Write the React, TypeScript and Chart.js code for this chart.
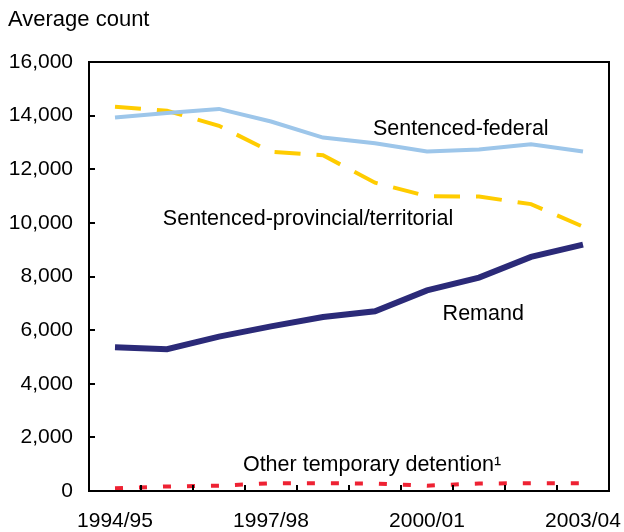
import React, { useEffect, useRef } from 'react';
import { Chart, registerables } from 'chart.js';

Chart.register(...registerables);

const years = ['1994/95', '1995/96', '1996/97', '1997/98', '1998/99', '1999/00', '2000/01', '2001/02', '2002/03', '2003/04'];
const shownYears = ['1994/95', '1997/98', '2000/01', '2003/04'];
const sentencedFederal = [13930, 14100, 14250, 13780, 13180, 12970, 12660, 12740, 12930, 12660];
const sentencedProvincial = [14330, 14180, 13620, 12650, 12520, 11500, 11000, 10980, 10700, 9860];
const remand = [5360, 5290, 5760, 6140, 6490, 6700, 7480, 7960, 8730, 9190];
const otherTemporary = [100, 170, 200, 290, 290, 280, 200, 280, 290, 290];
const yMin = 0;
const yMax = 16000;
const yStep = 2000;
const yTitle = 'Average count';
// label anchors in data space: [text, category position, value at baseline]
const labelTexts = ['Sentenced-federal', 'Sentenced-provincial/territorial', 'Remand', 'Other temporary detention\u00B9'];
const labelPositions = [4.96, 0.92, 6.3, 2.46];
const labelValues = [13280, 9930, 6370, 750];

const FONT = '"Liberation Sans", Arial, Helvetica, sans-serif';

export default function App() {
  const ref = useRef<HTMLCanvasElement | null>(null);

  useEffect(() => {
    document.body.style.margin = '0';
    const canvas = ref.current;
    if (!canvas) return;

    const framePlugin = {
      id: 'frame',
      afterDatasetsDraw(chart: any) {
        const { ctx, chartArea } = chart;
        const xs = chart.scales.x;
        const ys = chart.scales.y;
        ctx.save();
        // annotations
        ctx.fillStyle = '#000';
        ctx.font = `21.5px ${FONT}`;
        ctx.textAlign = 'left';
        ctx.textBaseline = 'alphabetic';
        labelTexts.forEach((t, i) => {
          const p = labelPositions[i];
          const base = Math.floor(p);
          const frac = p - base;
          const x0 = xs.getPixelForValue(base);
          const x1 = xs.getPixelForValue(base + 1);
          const x = x0 + (x1 - x0) * frac;
          const y = ys.getPixelForValue(labelValues[i]);
          ctx.fillText(t, x, y);
        });
        // title
        ctx.font = `22px ${FONT}`;
        ctx.fillText(yTitle, 8, 26);
        // box
        ctx.strokeStyle = '#000';
        ctx.lineWidth = 2;
        ctx.strokeRect(chartArea.left, chartArea.top, chartArea.right - chartArea.left, chartArea.bottom - chartArea.top);
        // y ticks inward
        ys.ticks.forEach((tk: any) => {
          const y = Math.round(ys.getPixelForValue(tk.value));
          ctx.beginPath();
          ctx.moveTo(chartArea.left, y);
          ctx.lineTo(chartArea.left + 6, y);
          ctx.stroke();
        });
        // x ticks inward at category boundaries
        for (let i = 1; i < years.length; i++) {
          const x = Math.round((xs.getPixelForValue(i - 1) + xs.getPixelForValue(i)) / 2);
          ctx.beginPath();
          ctx.moveTo(x, chartArea.bottom);
          ctx.lineTo(x, chartArea.bottom - 6);
          ctx.stroke();
        }
        ctx.restore();
      },
    };

    const chart = new Chart(canvas, {
      type: 'line',
      data: {
        labels: years,
        datasets: [
          {
            label: 'Sentenced-federal',
            data: sentencedFederal,
            borderColor: '#9dc6ea',
            borderWidth: 4,
            pointRadius: 0,
            tension: 0,
            fill: false,
          },
          {
            label: 'Sentenced-provincial/territorial',
            data: sentencedProvincial,
            borderColor: '#ffcc00',
            borderWidth: 4,
            borderDash: [26, 16],
            pointRadius: 0,
            tension: 0,
            fill: false,
          },
          {
            label: 'Remand',
            data: remand,
            borderColor: '#2b2a78',
            borderWidth: 6,
            pointRadius: 0,
            tension: 0,
            fill: false,
          },
          {
            label: 'Other temporary detention',
            data: otherTemporary,
            borderColor: '#ee2233',
            borderWidth: 4,
            borderDash: [8, 16],
            pointRadius: 0,
            tension: 0,
            fill: false,
          },
        ],
      },
      options: {
        animation: false,
        responsive: false,
        devicePixelRatio: 1,
        layout: { padding: { left: 0, right: 15, top: 62, bottom: 0 } },
        plugins: {
          legend: { display: false },
          tooltip: { enabled: false },
          title: { display: false },
        },
        scales: {
          x: {
            type: 'category',
            offset: true,
            grid: { display: false, drawTicks: false },
            border: { display: false },
            ticks: {
              autoSkip: false,
              maxRotation: 0,
              minRotation: 0,
              padding: 18,
              color: '#000',
              font: { family: FONT, size: 21 },
              callback: (_v: any, i: number) => (shownYears.includes(years[i]) ? years[i] : ''),
            },
            afterFit: (s: any) => {
              s.height = 41;
              s.paddingLeft = 0;
              s.paddingRight = 0;
            },
          },
          y: {
            min: yMin,
            max: yMax,
            grid: { display: false, drawTicks: false },
            border: { display: false },
            ticks: {
              stepSize: yStep,
              padding: 16,
              color: '#000',
              font: { family: FONT, size: 21 },
              callback: (v: any) => Number(v).toLocaleString('en-US'),
            },
            afterFit: (s: any) => {
              s.width = 89;
              s.paddingTop = 0;
              s.paddingBottom = 0;
            },
          },
        },
      },
      plugins: [framePlugin],
    });

    return () => chart.destroy();
  }, []);

  return (
    <div style={{ width: 624, height: 532 }}>
      <canvas ref={ref} width={624} height={532} style={{ display: 'block' }} />
    </div>
  );
}
